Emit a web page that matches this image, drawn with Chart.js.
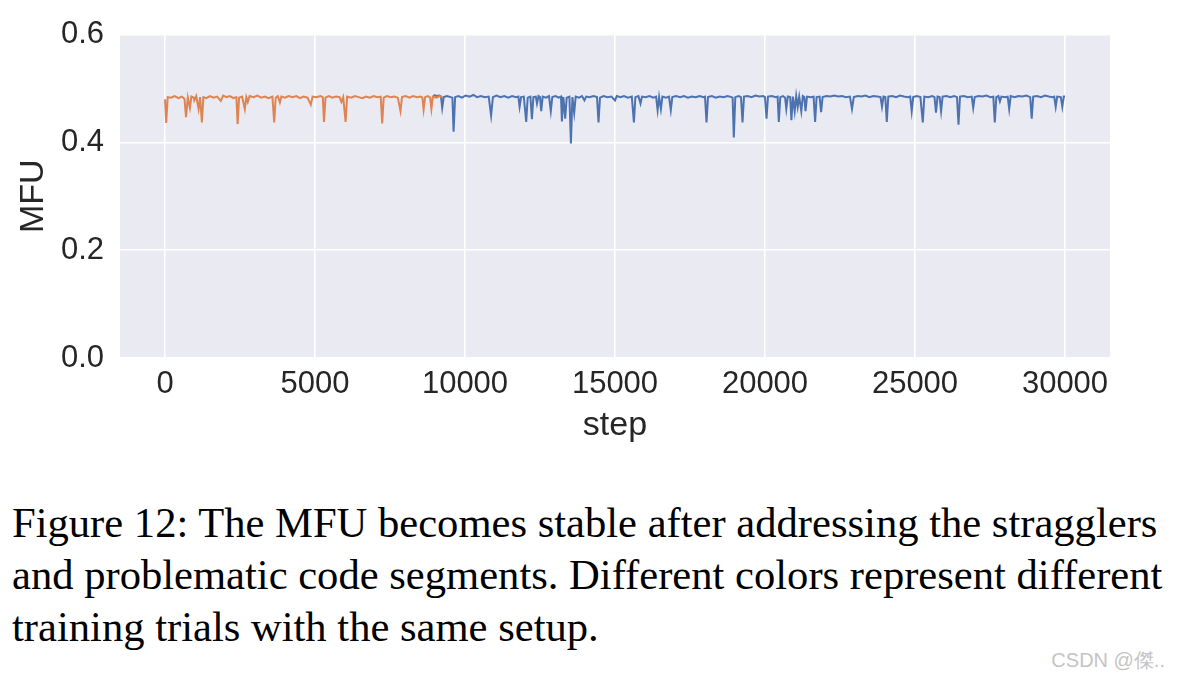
<!DOCTYPE html>
<html>
<head>
<meta charset="utf-8">
<script src="https://cdn.jsdelivr.net/npm/chart.js@4.4.1/dist/chart.umd.min.js"></script>
<style>
  body { margin: 0; background: #fff; width: 1177px; height: 679px; overflow: hidden; position: relative; }
  #wrap { position: absolute; left: 0; top: 0; width: 1177px; height: 446px; }
  #caption {
    position: absolute; left: 12px; top: 497px;
    font-family: "Liberation Serif", "Times New Roman", serif;
    font-size: 42.6px; line-height: 52px; color: #000; white-space: nowrap;
  }
  #mark {
    position: absolute; right: 12px; top: 647px;
    font-family: "Liberation Sans", Arial, sans-serif;
    font-size: 20px; color: #c4c4c4; white-space: nowrap;
  }
</style>
</head>
<body>
<div id="wrap"><canvas id="chartCanvas"></canvas></div>
<div id="caption">Figure 12: The MFU becomes stable after addressing the stragglers<br>and problematic code segments. Different colors represent different<br>training trials with the same setup.</div>
<div id="mark">CSDN @傑..</div>
<script>
// --- data ---
const xTicks = [0, 5000, 10000, 15000, 20000, 25000, 30000];
const yTicks = [0, 0.2, 0.4, 0.6];

// trial 1 (orange)
const orangeSteps = [0, 40, 90, 200, 320, 450, 560, 650, 700, 760, 830, 880, 960, 975, 1040, 1120, 1170, 1230, 1280, 1380,
  1500, 1620, 1740, 1860, 1940, 2050, 2160, 2280, 2380, 2420, 2470, 2570, 2660, 2710, 2760, 2820, 2950, 3080, 3200, 3330,
  3450, 3580, 3640, 3690, 3760, 3830, 3880, 4000, 4120, 4250, 4380, 4500, 4620, 4750, 4860, 4920, 5050, 5180, 5260, 5300,
  5350, 5460, 5580, 5700, 5820, 5880, 5940, 6020, 6070, 6200, 6330, 6450, 6580, 6700, 6830, 6950, 7080, 7190, 7240, 7290,
  7400, 7520, 7640, 7760, 7850, 7900, 8020, 8150, 8270, 8400, 8520, 8580, 8620, 8670, 8760, 8840, 8880, 8930, 9050, 9150, 9250];
const orangeMfu = [0.480, 0.436, 0.484, 0.483, 0.486, 0.482, 0.485, 0.481, 0.447, 0.483, 0.464, 0.485, 0.483, 0.478, 0.486, 0.462, 0.484, 0.437, 0.484, 0.482,
  0.486, 0.483, 0.485, 0.477, 0.487, 0.484, 0.486, 0.482, 0.484, 0.434, 0.483, 0.485, 0.462, 0.484, 0.475, 0.486, 0.484, 0.487, 0.483, 0.485,
  0.482, 0.485, 0.437, 0.483, 0.486, 0.474, 0.485, 0.483, 0.486, 0.484, 0.486, 0.482, 0.485, 0.483, 0.470, 0.485, 0.484, 0.486, 0.484, 0.438,
  0.483, 0.486, 0.483, 0.485, 0.484, 0.475, 0.484, 0.438, 0.485, 0.483, 0.486, 0.484, 0.482, 0.485, 0.483, 0.486, 0.484, 0.485, 0.435, 0.483,
  0.486, 0.484, 0.485, 0.483, 0.458, 0.484, 0.486, 0.483, 0.486, 0.484, 0.485, 0.483, 0.461, 0.484, 0.486, 0.483, 0.462, 0.485, 0.483, 0.486, 0.484];

// trial 2 (blue)
const blueSteps = [8950, 9050, 9150, 9200, 9240, 9290, 9400, 9520, 9580, 9620, 9670, 9780, 9900, 10020, 10150, 10280, 10400, 10530, 10660, 10790,
  10870, 10930, 11050, 11180, 11310, 11440, 11570, 11700, 11780, 11820, 11870, 11960, 12040, 12090, 12180, 12230, 12280, 12360, 12400, 12450,
  12500, 12540, 12590, 12700, 12800, 12860, 12910, 13020, 13120, 13200, 13230, 13280, 13340, 13390, 13480, 13530, 13580, 13640, 13690, 13800,
  13900, 13980, 14040, 14150, 14280, 14400, 14450, 14500, 14620, 14750, 14880, 15000, 15060, 15180, 15300, 15430, 15560, 15630, 15680, 15780,
  15850, 15900, 16020, 16150, 16280, 16370, 16420, 16470, 16530, 16580, 16700, 16800, 16860, 16910, 17040, 17170, 17300, 17430, 17560, 17690,
  17820, 17950, 18000, 18050, 18100, 18230, 18360, 18490, 18620, 18750, 18880, 18920, 18960, 19010, 19120, 19200, 19250, 19300, 19420, 19550,
  19680, 19810, 19940, 20000, 20050, 20100, 20230, 20360, 20420, 20460, 20510, 20600, 20670, 20710, 20760, 20840, 20880, 20930, 20990, 21040,
  21090, 21140, 21210, 21260, 21310, 21350, 21400, 21520, 21620, 21670, 21720, 21820, 21870, 21920, 22050, 22180, 22310, 22440, 22570, 22700,
  22830, 22900, 22960, 23090, 23220, 23350, 23480, 23610, 23740, 23850, 23900, 23950, 24010, 24060, 24110, 24240, 24370, 24500, 24630, 24760,
  24840, 24890, 24940, 25060, 25180, 25260, 25310, 25440, 25570, 25650, 25700, 25750, 25820, 25870, 25920, 26050, 26180, 26300, 26400, 26450,
  26500, 26630, 26760, 26890, 26940, 26990, 27120, 27250, 27380, 27510, 27610, 27660, 27710, 27780, 27830, 27880, 28000, 28090, 28140, 28190,
  28320, 28450, 28580, 28710, 28840, 28890, 28940, 29070, 29200, 29330, 29460, 29590, 29640, 29690, 29740, 29860, 29910, 29960, 30000];
const blueMfu = [0.488, 0.486, 0.487, 0.485, 0.464, 0.484, 0.486, 0.484, 0.483, 0.420, 0.484, 0.486, 0.483, 0.487, 0.485, 0.488, 0.484, 0.486, 0.484, 0.485,
  0.450, 0.484, 0.487, 0.484, 0.486, 0.483, 0.486, 0.484, 0.485, 0.466, 0.484, 0.485, 0.438, 0.483, 0.485, 0.443, 0.484, 0.485, 0.472, 0.486,
  0.484, 0.458, 0.485, 0.483, 0.486, 0.458, 0.484, 0.486, 0.483, 0.485, 0.439, 0.484, 0.444, 0.483, 0.485, 0.398, 0.484, 0.455, 0.485, 0.483,
  0.486, 0.478, 0.485, 0.484, 0.486, 0.484, 0.437, 0.483, 0.486, 0.484, 0.485, 0.478, 0.486, 0.484, 0.486, 0.483, 0.485, 0.437, 0.484, 0.486,
  0.472, 0.485, 0.484, 0.486, 0.483, 0.485, 0.460, 0.484, 0.462, 0.485, 0.483, 0.485, 0.460, 0.484, 0.486, 0.484, 0.486, 0.483, 0.485, 0.484,
  0.486, 0.484, 0.485, 0.437, 0.484, 0.486, 0.483, 0.485, 0.484, 0.486, 0.484, 0.483, 0.409, 0.484, 0.486, 0.484, 0.437, 0.485, 0.486, 0.484,
  0.487, 0.485, 0.486, 0.484, 0.444, 0.485, 0.486, 0.484, 0.485, 0.438, 0.484, 0.486, 0.483, 0.462, 0.485, 0.484, 0.441, 0.485, 0.458, 0.486,
  0.466, 0.485, 0.458, 0.486, 0.484, 0.458, 0.485, 0.484, 0.485, 0.438, 0.484, 0.485, 0.456, 0.484, 0.486, 0.485, 0.487, 0.485, 0.486, 0.484,
  0.485, 0.462, 0.484, 0.486, 0.485, 0.487, 0.484, 0.486, 0.485, 0.484, 0.466, 0.485, 0.484, 0.438, 0.485, 0.486, 0.484, 0.487, 0.485, 0.484,
  0.485, 0.458, 0.484, 0.486, 0.484, 0.437, 0.485, 0.484, 0.486, 0.484, 0.455, 0.485, 0.484, 0.458, 0.485, 0.486, 0.484, 0.486, 0.484, 0.433,
  0.485, 0.486, 0.484, 0.485, 0.464, 0.484, 0.486, 0.485, 0.487, 0.484, 0.485, 0.437, 0.484, 0.486, 0.476, 0.485, 0.484, 0.485, 0.462, 0.486,
  0.484, 0.486, 0.485, 0.487, 0.484, 0.444, 0.485, 0.486, 0.484, 0.487, 0.485, 0.484, 0.485, 0.466, 0.485, 0.484, 0.466, 0.485, 0.485];

// --- chart ---
const canvas = document.getElementById("chartCanvas");

const toPoints = (xs, ys) => xs.map((x, i) => ({ x, y: ys[i] }));

// seaborn darkgrid background behind the plot area
const plotBg = {
  id: "plotBg",
  beforeDraw(chart) {
    const { ctx, chartArea: a } = chart;
    ctx.save();
    ctx.fillStyle = "#eaeaf2";
    ctx.fillRect(a.left, a.top, a.right - a.left, a.bottom - a.top);
    ctx.restore();
  }
};

const tickFont = { family: "'Liberation Sans', Arial, sans-serif", size: 31 };
const labelFont = { family: "'Liberation Sans', Arial, sans-serif", size: 34 };

new Chart(canvas, {
  type: "line",
  data: {
    datasets: [
      {
        label: "trial 1",
        data: toPoints(orangeSteps, orangeMfu),
        borderColor: "#dd8452",
        borderWidth: 2,
        order: 0
      },
      {
        label: "trial 2",
        data: toPoints(blueSteps, blueMfu),
        borderColor: "#4c72b0",
        borderWidth: 2,
        order: 1
      }
    ]
  },
  options: {
    responsive: true,
    maintainAspectRatio: false,
    animation: false,
    devicePixelRatio: 1,
    layout: { padding: { top: 30, right: 67, left: 0, bottom: 0 } },
    elements: { point: { radius: 0 }, line: { tension: 0 } },
    plugins: { legend: { display: false }, tooltip: { enabled: false } },
    scales: {
      x: {
        type: "linear",
        min: -1500,
        max: 31500,
        afterBuildTicks: s => { s.ticks = xTicks.map(v => ({ value: v })); },
        afterFit: s => { s.height = 88; },
        ticks: { font: tickFont, color: "#262626", padding: 8, maxRotation: 0, callback: v => String(v) },
        grid: { color: "#ffffff", lineWidth: 1.6, drawTicks: false },
        border: { display: false },
        title: { display: true, text: "step", font: labelFont, color: "#262626", padding: { top: 0, bottom: 0 } }
      },
      y: {
        min: 0,
        max: 0.6,
        afterBuildTicks: s => { s.ticks = yTicks.map(v => ({ value: v })); },
        afterFit: s => { s.width = 120; },
        ticks: { font: tickFont, color: "#262626", padding: 16, callback: v => v.toFixed(1) },
        grid: { color: "#ffffff", lineWidth: 1.6, drawTicks: false },
        border: { display: false },
        title: { display: true, text: "MFU", font: labelFont, color: "#262626", padding: { top: 13, bottom: 0 } }
      }
    }
  },
  plugins: [plotBg]
});
</script>
</body>
</html>
